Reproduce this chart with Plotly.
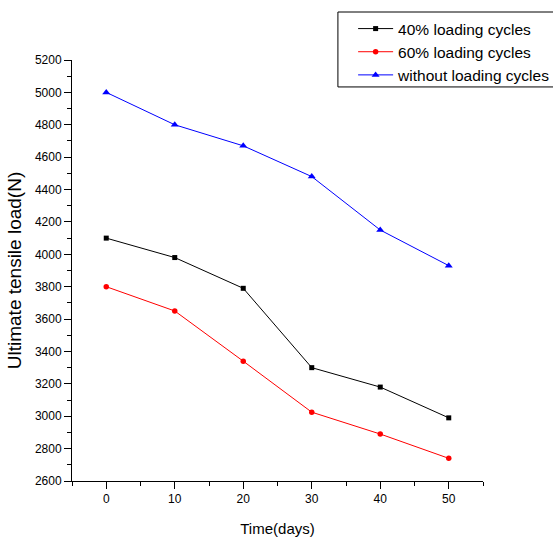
import plotly.graph_objects as go

# Ultimate tensile load over time for three loading conditions
days = [0, 10, 20, 30, 40, 50]
load_40 = [4100, 3980, 3790, 3300, 3180, 2990]
load_60 = [3800, 3650, 3340, 3025, 2890, 2740]
load_none = [5000, 4800, 4670, 4480, 4150, 3930]

series = [
    ("40% loading cycles", load_40, "black", "square", 5),
    ("60% loading cycles", load_60, "red", "circle", 5.5),
    ("without loading cycles", load_none, "blue", "triangle-up", 7),
]

fig = go.Figure()
for name, vals, color, symbol, size in series:
    fig.add_trace(go.Scatter(
        x=days, y=vals, name=name, mode="lines+markers",
        line=dict(color=color, width=1),
        marker=dict(symbol=symbol, size=size, color=color),
    ))

font = "Arial, Liberation Sans, sans-serif"
fig.update_layout(
    width=553, height=544,
    margin=dict(l=72, r=70, t=60, b=63, autoexpand=False),
    plot_bgcolor="white", paper_bgcolor="white",
    font=dict(family=font, color="black", size=12),
    showlegend=True,
    legend=dict(
        x=0.684, y=1.114, xanchor="left", yanchor="top",
        borderwidth=0, bgcolor="rgba(0,0,0,0)",
        font=dict(size=15.5, family=font), tracegroupgap=0,
        itemwidth=35,
    ),
    # frame around the legend, running off the right edge
    shapes=[dict(
        type="rect", xref="paper", yref="paper",
        x0=0.647, x1=1.3, y0=0.936, y1=1.114,
        line=dict(color="black", width=1), fillcolor="rgba(0,0,0,0)",
    )],
    xaxis=dict(
        range=[-5, 55], tickvals=days, showgrid=False, zeroline=False,
        showline=True, linecolor="black", linewidth=1,
        ticks="outside", ticklen=7, tickcolor="black",
        minor=dict(dtick=5, tick0=5, ticks="outside", ticklen=4, tickcolor="black", showgrid=False),
        tickfont=dict(size=12),
        title=dict(text="Time(days)", font=dict(size=15), standoff=18),
    ),
    yaxis=dict(
        range=[2600, 5200], dtick=200, showgrid=False, zeroline=False,
        showline=True, linecolor="black", linewidth=1,
        ticks="outside", ticklen=7, tickcolor="black",
        minor=dict(dtick=100, ticks="outside", ticklen=4, tickcolor="black", showgrid=False),
        tickfont=dict(size=12),
        title=dict(text="Ultimate tensile load(N)", font=dict(size=19), standoff=8),
    ),
)

fig.write_html("out.html")
